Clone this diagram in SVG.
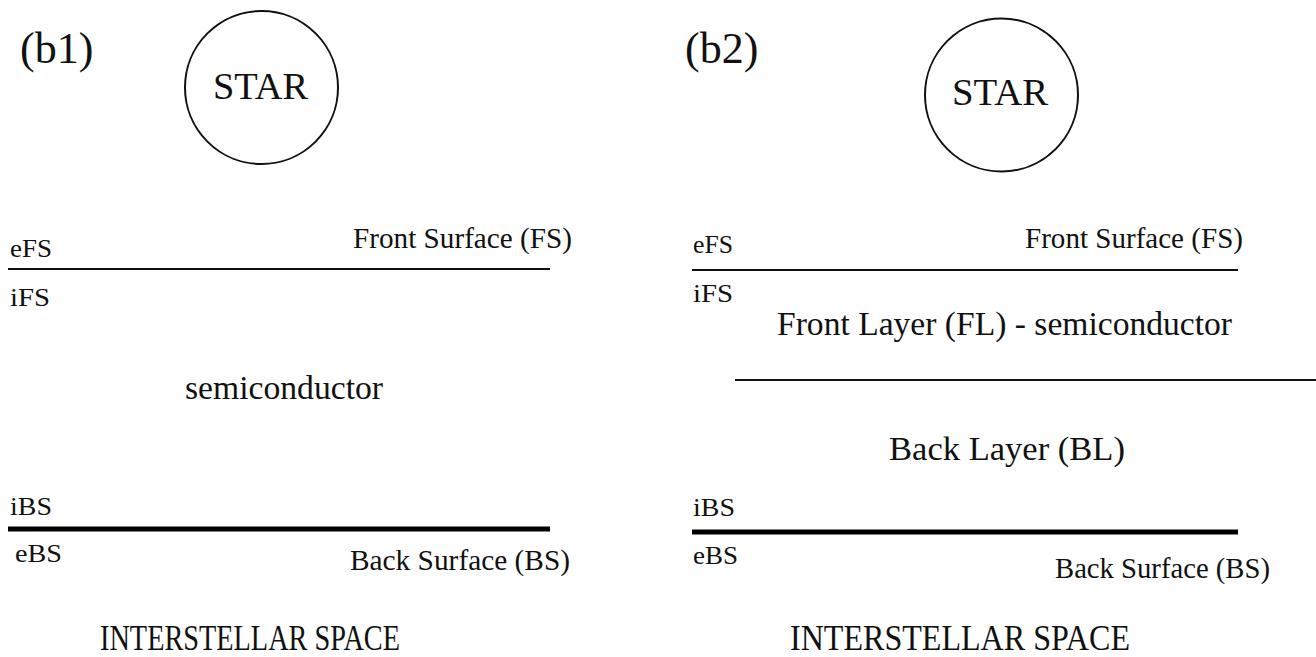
<svg xmlns="http://www.w3.org/2000/svg" width="1316" height="657" viewBox="0 0 1316 657">
<style>
text{font-family:"Liberation Serif","Times New Roman",serif;fill:#111}
.lbl{font-size:44px}
.star{font-size:38px}
.sm{font-size:26px}
.md{font-size:29px}
.lg{font-size:33px}
.is{font-size:36px}
.thin{stroke:#111;stroke-width:2;fill:none}
.thick{stroke:#000;stroke-width:5;fill:none}
</style>
<rect width="1316" height="657" fill="#fff"/>
<g id="panel-b1">
<text class="lbl" x="20" y="63">(b1)</text>
<g id="star1"><circle class="thin" cx="261.5" cy="87.5" r="76.5"/><text class="star" x="213" y="99" textLength="95" lengthAdjust="spacingAndGlyphs">STAR</text></g>
<g id="fs1"><text class="sm" x="10" y="257" textLength="42" lengthAdjust="spacingAndGlyphs">eFS</text><text class="md" x="353" y="248" textLength="219" lengthAdjust="spacingAndGlyphs">Front Surface (FS)</text><text class="sm" x="10" y="306" textLength="40" lengthAdjust="spacingAndGlyphs">iFS</text></g>
<text class="lg" x="185" y="399" textLength="198" lengthAdjust="spacingAndGlyphs">semiconductor</text>
<g id="bs1"><text class="sm" x="10" y="515" textLength="42" lengthAdjust="spacingAndGlyphs">iBS</text><text class="sm" x="15" y="562" textLength="47" lengthAdjust="spacingAndGlyphs">eBS</text><text class="md" x="350" y="570" textLength="220" lengthAdjust="spacingAndGlyphs">Back Surface (BS)</text></g>
<text class="is" x="100" y="650" textLength="300" lengthAdjust="spacingAndGlyphs">INTERSTELLAR SPACE</text>
</g>
<g id="panel-b2">
<text class="lbl" x="685" y="63">(b2)</text>
<g id="star2"><circle class="thin" cx="1001.5" cy="95" r="76.5"/><text class="star" x="952" y="105" textLength="96" lengthAdjust="spacingAndGlyphs">STAR</text></g>
<g id="fs2"><text class="sm" x="693" y="253" textLength="40" lengthAdjust="spacingAndGlyphs">eFS</text><text class="md" x="1025" y="248" textLength="218" lengthAdjust="spacingAndGlyphs">Front Surface (FS)</text><text class="sm" x="693" y="302" textLength="40" lengthAdjust="spacingAndGlyphs">iFS</text></g>
<text class="lg" x="777" y="335" textLength="455" lengthAdjust="spacingAndGlyphs">Front Layer (FL) - semiconductor</text>
<text class="lg" x="889" y="460" textLength="236" lengthAdjust="spacingAndGlyphs">Back Layer (BL)</text>
<g id="bs2"><text class="sm" x="693" y="516" textLength="42" lengthAdjust="spacingAndGlyphs">iBS</text><text class="sm" x="693" y="564" textLength="45" lengthAdjust="spacingAndGlyphs">eBS</text><text class="md" x="1055" y="578" textLength="215" lengthAdjust="spacingAndGlyphs">Back Surface (BS)</text></g>
<text class="is" x="790" y="650" textLength="340" lengthAdjust="spacingAndGlyphs">INTERSTELLAR SPACE</text>
</g>
<g id="connectors">
<line class="thin" x1="8" y1="269" x2="550" y2="269"/>
<line class="thick" x1="8" y1="529" x2="550" y2="529"/>
<line class="thin" x1="692" y1="270" x2="1238" y2="270"/>
<line class="thin" x1="735" y1="380" x2="1316" y2="380"/>
<line class="thick" x1="692" y1="532" x2="1238" y2="532"/>
</g>
</svg>
